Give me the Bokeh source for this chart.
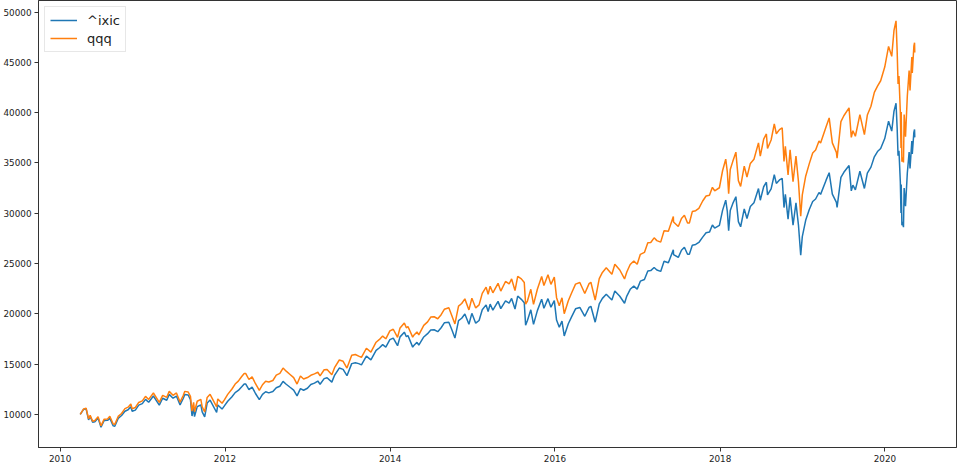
import pandas as pd
from bokeh.plotting import figure
from bokeh.models import Range1d, FixedTicker, DatetimeTickFormatter, NumeralTickFormatter
from bokeh.embed import file_html
from bokeh.resources import INLINE

# ---------------- data ----------------
dates = [
    "2010-03-31", "2010-04-15", "2010-04-26", "2010-05-07", "2010-05-14", "2010-05-25", "2010-06-04", "2010-06-18",
    "2010-07-01", "2010-07-15", "2010-07-30", "2010-08-09", "2010-08-24", "2010-08-31", "2010-09-15", "2010-09-30",
    "2010-10-15", "2010-10-29", "2010-11-10", "2010-11-16", "2010-11-30", "2010-12-15", "2010-12-31",
    "2011-01-14", "2011-01-28", "2011-02-18", "2011-03-16", "2011-03-31", "2011-04-18", "2011-04-29", "2011-05-16",
    "2011-05-31", "2011-06-16", "2011-06-30", "2011-07-07", "2011-07-22", "2011-08-01", "2011-08-08", "2011-08-15",
    "2011-08-19", "2011-08-31", "2011-09-16", "2011-09-22", "2011-10-03", "2011-10-14", "2011-10-27", "2011-11-25",
    "2011-11-30", "2011-12-19", "2011-12-30",
    "2012-01-13", "2012-01-31", "2012-02-15", "2012-02-29", "2012-03-15", "2012-03-26", "2012-04-02", "2012-04-16",
    "2012-04-30", "2012-05-15", "2012-06-01", "2012-06-15", "2012-06-29", "2012-07-13", "2012-07-31", "2012-08-15",
    "2012-08-31", "2012-09-14", "2012-09-28", "2012-10-15", "2012-10-31", "2012-11-15", "2012-11-30", "2012-12-14",
    "2012-12-31",
    "2013-01-15", "2013-01-31", "2013-02-15", "2013-02-25", "2013-03-15", "2013-03-28", "2013-04-18", "2013-04-30",
    "2013-05-21", "2013-06-07", "2013-06-24", "2013-07-15", "2013-07-31", "2013-08-15", "2013-08-27", "2013-09-18",
    "2013-10-08", "2013-10-31", "2013-11-15", "2013-11-29", "2013-12-13", "2013-12-31",
    "2014-01-15", "2014-02-03", "2014-02-14", "2014-03-05", "2014-03-14", "2014-03-21", "2014-04-11", "2014-04-15",
    "2014-04-30", "2014-05-08", "2014-05-30", "2014-06-16", "2014-06-30", "2014-07-15", "2014-07-31", "2014-08-15",
    "2014-08-29", "2014-09-18", "2014-10-01", "2014-10-15", "2014-10-31", "2014-11-14", "2014-11-28", "2014-12-16",
    "2014-12-29",
    "2015-01-15", "2015-01-30", "2015-02-13", "2015-03-02", "2015-03-11", "2015-03-20", "2015-04-01", "2015-04-24",
    "2015-05-06", "2015-05-27", "2015-06-12", "2015-06-23", "2015-07-08", "2015-07-20", "2015-08-05", "2015-08-18",
    "2015-08-24", "2015-09-01", "2015-09-16", "2015-09-28", "2015-10-15", "2015-11-03", "2015-11-13", "2015-12-01",
    "2015-12-14", "2015-12-29",
    "2016-01-08", "2016-01-20", "2016-02-01", "2016-02-11", "2016-02-29", "2016-03-15", "2016-04-01", "2016-04-20",
    "2016-05-12", "2016-05-31", "2016-06-08", "2016-06-27", "2016-07-15", "2016-07-29", "2016-08-15", "2016-09-09",
    "2016-09-22", "2016-10-14", "2016-11-04", "2016-11-14", "2016-11-29", "2016-12-15", "2016-12-30",
    "2017-01-13", "2017-01-31", "2017-02-15", "2017-02-28", "2017-03-15", "2017-03-27", "2017-04-13", "2017-04-28",
    "2017-05-17", "2017-06-08", "2017-06-09", "2017-06-30", "2017-07-14", "2017-07-27", "2017-08-10", "2017-08-18",
    "2017-08-31", "2017-09-15", "2017-09-29", "2017-10-16", "2017-10-31", "2017-11-15", "2017-11-28", "2017-12-08",
    "2017-12-29",
    "2018-01-12", "2018-01-26", "2018-02-02", "2018-02-08", "2018-02-15", "2018-02-26", "2018-03-12", "2018-03-23",
    "2018-04-02", "2018-04-18", "2018-04-30", "2018-05-15", "2018-05-31", "2018-06-20", "2018-06-28", "2018-07-13",
    "2018-07-25", "2018-07-30", "2018-08-15", "2018-08-29", "2018-09-07", "2018-09-21", "2018-10-03", "2018-10-11",
    "2018-10-17", "2018-10-29", "2018-11-07", "2018-11-20", "2018-12-03", "2018-12-14", "2018-12-24", "2018-12-31",
    "2019-01-15", "2019-01-31", "2019-02-15", "2019-02-28", "2019-03-15", "2019-03-22", "2019-04-15", "2019-04-29",
    "2019-05-13", "2019-05-31", "2019-06-03", "2019-06-20", "2019-07-03", "2019-07-26", "2019-08-05", "2019-08-12",
    "2019-08-23", "2019-09-12", "2019-10-02", "2019-10-15", "2019-10-31", "2019-11-15", "2019-11-29", "2019-12-13",
    "2019-12-31",
    "2020-01-17", "2020-01-31", "2020-02-10", "2020-02-19", "2020-02-24", "2020-02-28", "2020-03-03", "2020-03-09",
    "2020-03-12", "2020-03-13", "2020-03-16", "2020-03-18", "2020-03-23", "2020-03-26", "2020-04-01", "2020-04-09",
    "2020-04-17", "2020-04-21", "2020-04-29", "2020-05-01", "2020-05-08", "2020-05-11", "2020-05-12",
]

ixic = [
    10000, 10490, 10550, 9450, 9790, 9220, 9250, 9630,
    8720, 9380, 9400, 9610, 8850, 8820, 9600, 9880,
    10300, 10450, 10750, 10300, 10420, 10910, 11060,
    11490, 11200, 11820, 10910, 11600, 11400, 11980, 11600,
    11820, 10940, 11570, 11980, 11920, 11450, 9830, 10660,
    9770, 10760, 10930, 10240, 9740, 11120, 11420, 10180,
    10930, 10520, 10860,
    11300, 11730, 12160, 12370, 12740, 13020, 13010, 12460,
    12700, 12070, 11460, 11980, 12240, 12130, 12260, 12640,
    12790, 13270, 12990, 12690, 12410, 11830, 12550, 12390,
    12590,
    12970, 13100, 13310, 12990, 13550, 13630, 13200, 13880,
    14600, 14470, 13840, 15040, 15120, 15040, 14920, 15780,
    15410, 16350, 16620, 16930, 16680, 17420,
    17580, 16820, 17700, 18170, 17710, 17840, 16680, 16820,
    17160, 16890, 17690, 18020, 18380, 18410, 18220, 18610,
    19100, 19150, 18440, 17580, 19310, 19550, 19980, 18960,
    20040,
    19060, 19330, 20400, 20880, 20220, 20960, 20350, 21230,
    20510, 21290, 21060, 21520, 20470, 21760, 21430, 21100,
    18870, 19330, 20390, 18940, 20310, 21450, 20550, 21500,
    20650, 21300,
    19370, 18650, 19270, 17790, 19010, 19720, 20490, 20630,
    19750, 20630, 20740, 19160, 20980, 21530, 21940, 21370,
    22260, 21740, 21040, 21760, 22430, 22750, 22450,
    23240, 23410, 24260, 24290, 24600, 24350, 24210, 25220,
    25070, 26360, 25890, 25600, 26320, 26610, 25920, 25920,
    26810, 26890, 27090, 27620, 28060, 28120, 28820, 28520,
    28790,
    30280, 31300, 30190, 28260, 30260, 30950, 31640, 29160,
    28650, 30420, 29470, 30660, 31030, 32450, 31290, 32630,
    33080, 31820, 32420, 33820, 32960, 33310, 33470, 30560,
    31870, 29400, 31570, 28810, 31030, 28820, 25820, 27670,
    29290, 30370, 31160, 31410, 32060, 31870, 33260, 34030,
    31890, 31080, 30580, 33570, 34070, 34740, 32220, 32790,
    32320, 34170, 32460, 33980, 34580, 35610, 36130, 36430,
    37420,
    39150, 38160, 40150, 40940, 38450, 35720, 36210, 33150,
    30030, 32840, 28790, 29140, 28610, 32510, 30690, 34000,
    36070, 34460, 37170, 35880, 38040, 38330, 37540,
]

qqq = [
    10000, 10540, 10600, 9540, 9890, 9310, 9390, 9770,
    8850, 9520, 9540, 9800, 9030, 9000, 9790, 10080,
    10560, 10710, 11020, 10560, 10680, 11180, 11340,
    11780, 11480, 12120, 11180, 11890, 11690, 12280, 11890,
    12120, 11210, 11860, 12280, 12220, 11790, 10320, 11190,
    10260, 11300, 11480, 10750, 10230, 11680, 11990, 10740,
    11530, 11100, 11460,
    11980, 12490, 13010, 13300, 13760, 14060, 14050, 13460,
    13720, 13040, 12380, 12940, 13280, 13220, 13360, 13900,
    14070, 14600, 14290, 13960, 13650, 13010, 13810, 13510,
    13660,
    13880, 14020, 14180, 13830, 14430, 14450, 13930, 14640,
    15400, 15270, 14600, 15870, 15950, 15790, 15670, 16570,
    16180, 17170, 17450, 17780, 17510, 18290,
    18460, 17660, 18590, 19080, 18600, 18730, 17680, 17830,
    18190, 17900, 18840, 19190, 19670, 19700, 19500, 19910,
    20440, 20590, 19820, 18990, 20760, 21020, 21480, 20380,
    21540,
    20580, 20880, 22030, 22650, 21940, 22740, 22080, 23030,
    22250, 23210, 22960, 23460, 22310, 23720, 23470, 23100,
    20950, 21260, 22430, 20930, 22440, 23700, 22810, 23870,
    22920, 23640,
    21600, 20790, 21580, 20010, 21290, 22090, 22950, 23110,
    22020, 23000, 23130, 21360, 23500, 24110, 24570, 23930,
    24930, 24350, 23460, 24150, 24900, 25250, 24920,
    25910, 26100, 27050, 27080, 27550, 27270, 27120, 28250,
    28200, 29660, 29130, 28670, 29480, 29800, 29030, 29030,
    30160, 30250, 30480, 31210, 31710, 31780, 32570, 32230,
    32530,
    34220, 35370, 34110, 31930, 34350, 35130, 36070, 33240,
    32660, 34680, 33600, 34950, 35370, 36990, 35670, 37360,
    37880, 36430, 37280, 38890, 37900, 38310, 38490, 35140,
    36650, 33810, 36310, 33130, 35680, 33140, 29690, 31820,
    33680, 34930, 35990, 36280, 37190, 36970, 38580, 39470,
    36990, 36050, 35470, 39110, 39690, 40470, 37540, 38200,
    37650, 39810, 37820, 39760, 40630, 42020, 42630, 43170,
    44530,
    46590, 45600, 48180, 49130, 46140, 42860, 43630, 40110,
    36490, 40060, 35120, 35550, 35050, 39820, 37600, 41650,
    44190, 42210, 45530, 43950, 46600, 46950, 45990,
]

series_names = ["^ixic", "qqq"]
series_colors = ["#1f77b4", "#ff7f0e"]
x_tick_years = [2010, 2012, 2014, 2016, 2018, 2020]
y_ticks = [10000, 15000, 20000, 25000, 30000, 35000, 40000, 45000, 50000]

# ---------------- figure ----------------
x = pd.to_datetime(dates)

# matplotlib-like 5% margins
xmin, xmax = x.min(), x.max()
xpad = (xmax - xmin) * 0.05
all_vals = ixic + qqq
ymin, ymax = min(all_vals), max(all_vals)
ypad = (ymax - ymin) * 0.05

p = figure(
    width=957, height=464,
    x_axis_type="datetime",
    output_backend="svg",
    toolbar_location=None,
    x_range=Range1d(start=xmin - xpad, end=xmax + xpad),
    y_range=Range1d(start=ymin - ypad, end=ymax + ypad),
    min_border_left=4, min_border_right=1, min_border_top=0, min_border_bottom=0,
)

for vals, name, col in zip([ixic, qqq], series_names, series_colors):
    p.line(x, vals, line_color=col, line_width=1.5, legend_label=name)

p.xgrid.visible = False
p.ygrid.visible = False
p.outline_line_color = "#333333"
p.outline_line_width = 1
p.background_fill_color = "white"
p.border_fill_color = "white"

tick_ms = [pd.Timestamp(f"{yr}-01-01").value // 10**6 for yr in x_tick_years]
p.xaxis.ticker = FixedTicker(ticks=tick_ms)
p.xaxis.formatter = DatetimeTickFormatter(years="%Y", months="%Y", days="%Y")
p.yaxis.ticker = FixedTicker(ticks=y_ticks)
p.yaxis.formatter = NumeralTickFormatter(format="0")

for ax in (p.xaxis, p.yaxis):
    ax.axis_line_color = "#333333"
    ax.major_tick_line_color = "#333333"
    ax.major_tick_out = 4
    ax.major_tick_in = 0
    ax.minor_tick_line_color = None
    ax.major_label_text_font = "DejaVu Sans"
    ax.major_label_text_font_size = "8.8px"
    ax.major_label_text_color = "#222222"
    ax.major_label_standoff = 3

lg = p.legend[0]
lg.location = "top_left"
lg.margin = 6
lg.padding = 5
lg.spacing = 2
lg.label_text_font = "DejaVu Sans"
lg.label_text_font_size = "13px"
lg.label_text_color = "#222222"
lg.label_height = 16
lg.glyph_height = 16
lg.glyph_width = 27
lg.label_standoff = 10
lg.border_line_color = "#d0d0d0"
lg.border_line_width = 1
lg.background_fill_alpha = 0.85

open("out.html", "w").write(file_html(p, INLINE))
